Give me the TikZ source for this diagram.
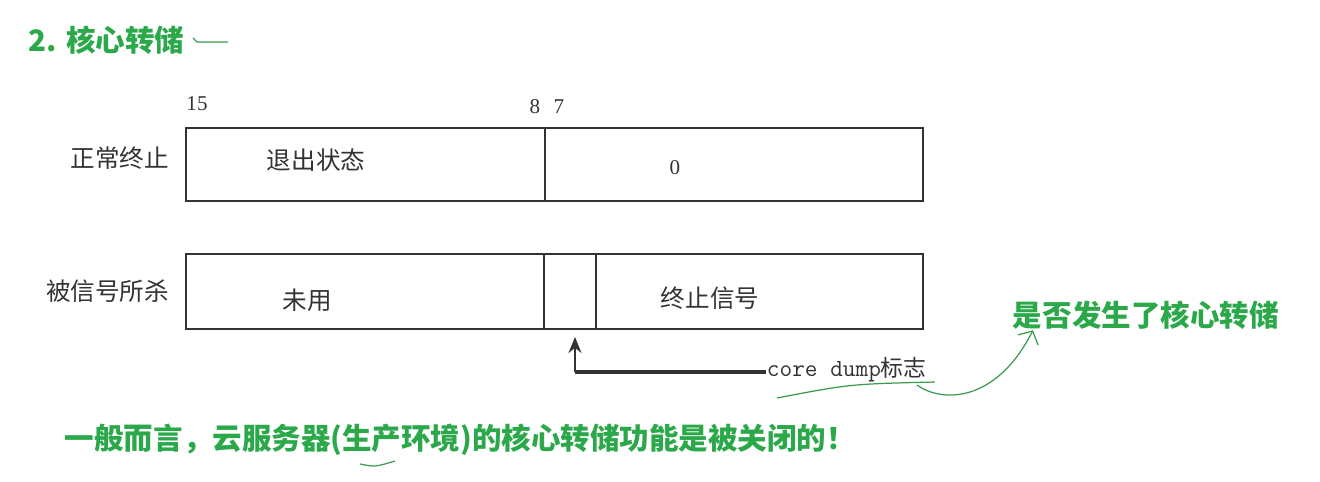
\documentclass[tikz,border=0pt]{standalone}
\usepackage{fontspec}
\setmainfont{Liberation Serif}
\newfontfamily\cjk{Noto Sans CJK SC}
\usetikzlibrary{arrows.meta, positioning}
\definecolor{cgreen}{HTML}{2BA84A}
\definecolor{cpen}{HTML}{3A9A50}
\definecolor{cline}{HTML}{333333}
\tikzset{
  every picture/.style={line width=1.1pt},
  field/.style={draw=cline, anchor=north west, inner sep=0pt, minimum height=#1},
  field/.default=1.46cm,
  boxtext/.style={font=\cjk\fontsize{14}{16}\selectfont, text=black!80, inner sep=0pt},
  bitno/.style={font=\fontsize{12}{14}\selectfont, text=black!80, inner sep=0pt},
  green note/.style={font=\cjk\bfseries\fontsize{16.8}{20}\selectfont, text=cgreen, inner sep=0pt},
  arrow/.style={-{Stealth[length=3.2mm, width=2.6mm]}, draw=cline},
  pen/.style={draw=cpen, line width=0.7pt},
}
\begin{document}
\begin{tikzpicture}[x=0.02cm, y=-0.02cm]
  \useasboundingbox (0,0) rectangle (1320,481);
  % title
  \node[green note, anchor=west] (title) at (28,40) {2. 核心转储};
  \draw[pen] (193,38) -- (197,42) -- (228,42);
  % bit numbers
  \node[bitno] (b15) at (197,104) {15};
  \node[bitno] (b8) at (535,107) {8};
  \node[bitno] (b7) at (559,107) {7};
  % row 1: normal exit
  \node[boxtext, anchor=east] (normal) at (170,158) {正常终止};
  \node[field, minimum width=7.18cm] (status) at (185,127) {};
  \node[field, minimum width=7.56cm] (zero) at (544,127) {};
  \node[boxtext] (statustxt) at (316,160) {退出状态};
  \node[bitno] (zerotxt) at (675,168) {0};
  % row 2: killed by a signal
  \node[boxtext, anchor=east] (killed) at (170,291) {被信号所杀};
  \node[field=1.5cm, minimum width=7.16cm] (unused) at (185,253) {};
  \node[field=1.5cm, minimum width=1.04cm] (flag) at (543,253) {};
  \node[field=1.5cm, minimum width=6.54cm] (signal) at (595,253) {};
  \node[boxtext] (unusedtxt) at (307,300) {未用};
  \node[boxtext] (signaltxt) at (710,298) {终止信号};
  % core dump flag
  \node[font=\ttfamily\fontsize{14}{16}\selectfont, text=black!80, anchor=west, inner sep=0pt] (cdtxt) at (766,370) {core dump{\cjk\fontsize{13}{15}\selectfont 标志}};
  \coordinate (cdcorner) at (575,372);
  \draw[arrow] (cdcorner) -- (575,337);
  \draw[line width=1.8pt, draw=cline] (cdcorner) -- (cdtxt.west |- cdcorner);
  % green remark
  \node[green note, anchor=west] (ask) at (1012,315) {是否发生了核心转储};
  \draw[pen] (777,398) .. controls (850,384) .. (935,382);
  \draw[pen, -{Straight Barb[length=2mm, width=4.5mm]}] (917,385) .. controls (940,402) and (995,405) .. (ask.south west -| 1033,0);
  % bottom remark
  \node[green note, anchor=west] (cloud) at (64,440) {一般而言，云服务器(生产环境)的核心转储功能是被关闭的！};
  \draw[pen] (360,464) .. controls (375,467) .. (395,461);
\end{tikzpicture}
\end{document}
